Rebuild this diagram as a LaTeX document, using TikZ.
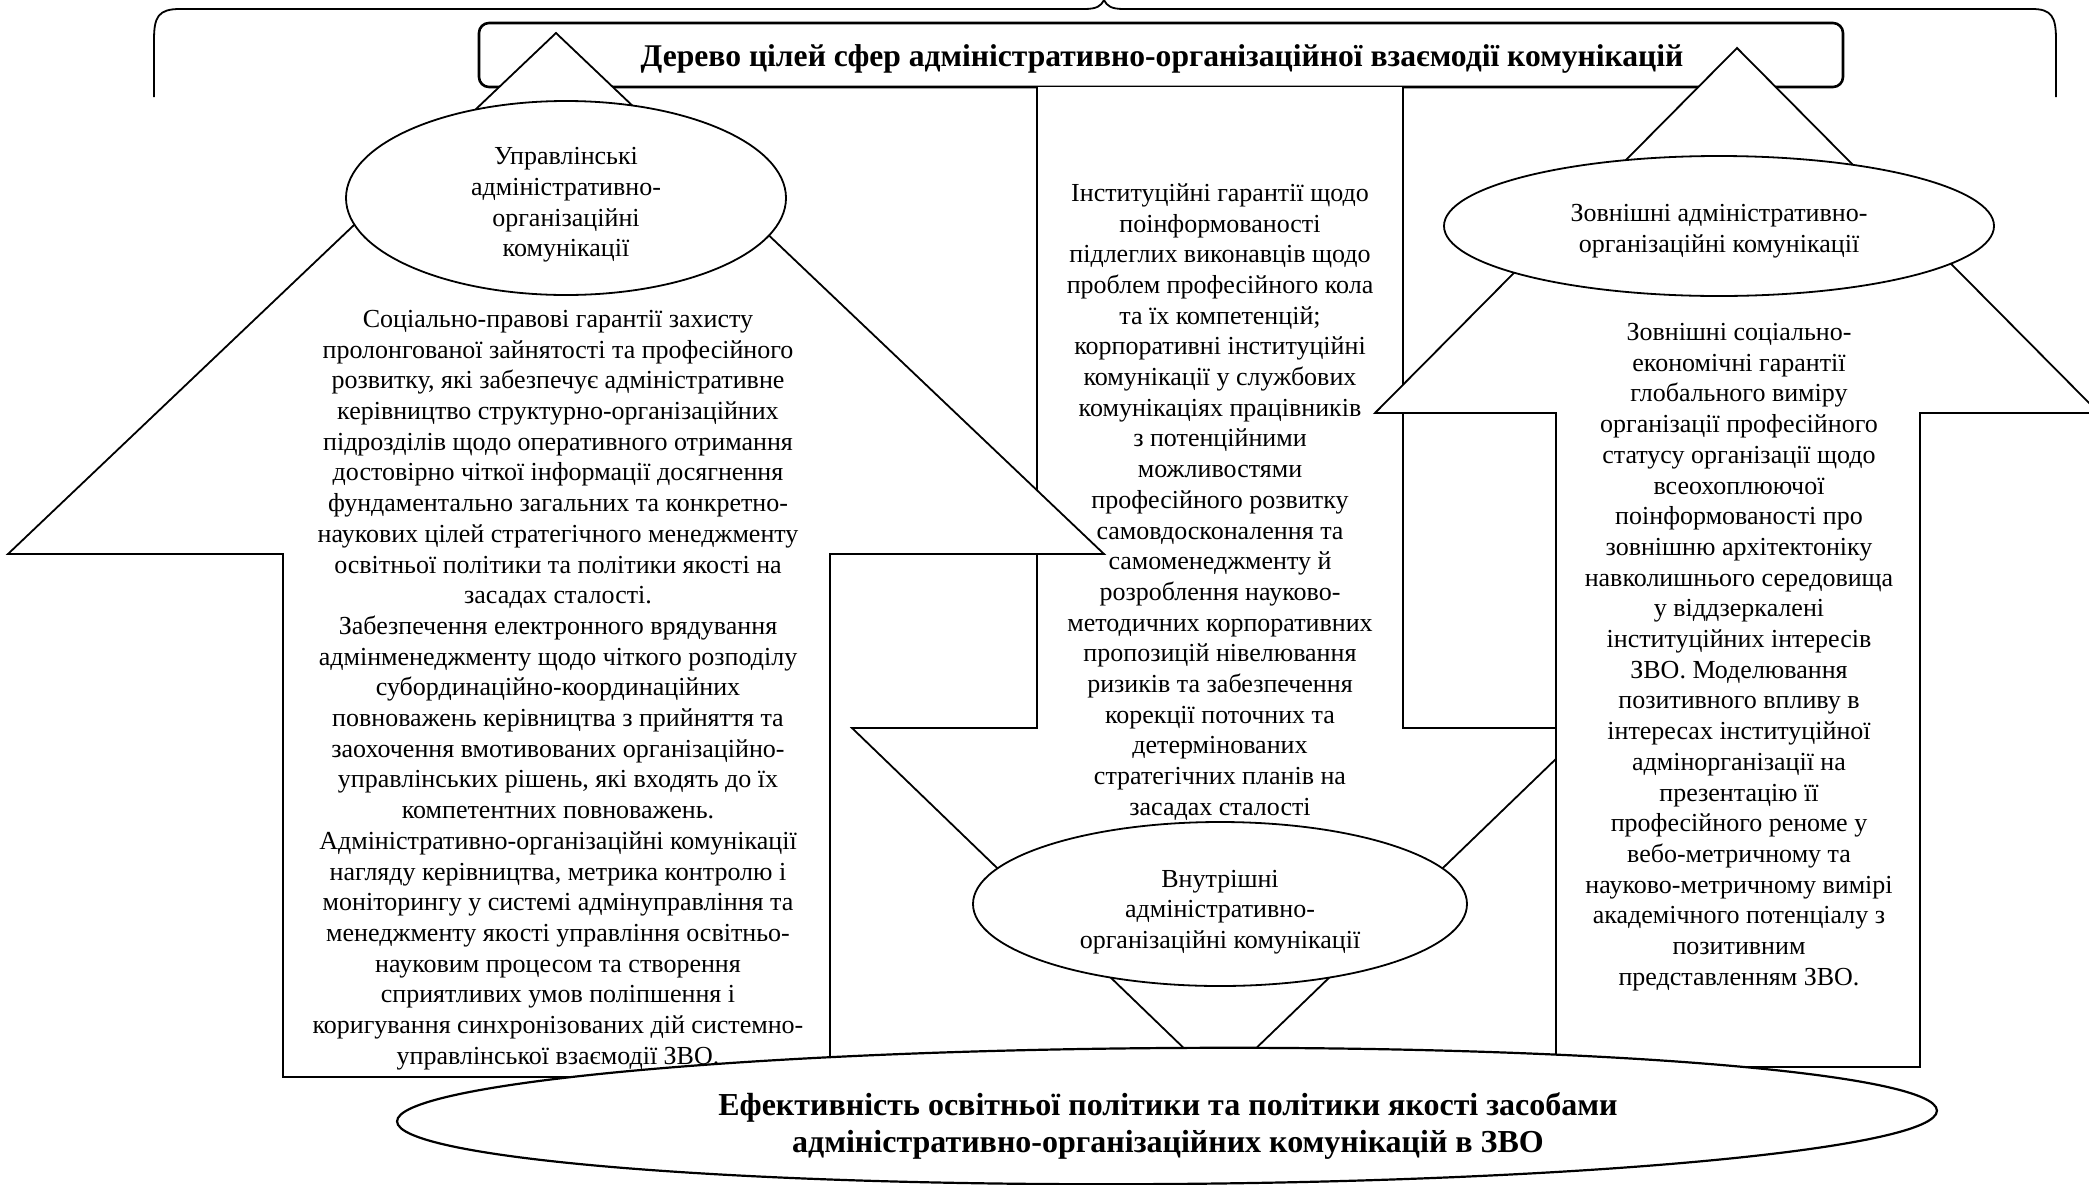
\documentclass[tikz,border=0pt]{standalone}
\usepackage{fontspec}
\setmainfont{Liberation Serif}
\usetikzlibrary{shapes.geometric}
\begin{document}
\begin{tikzpicture}[x=0.5pt,y=-0.5pt,
  outl/.style={draw=black,line width=0.9pt,fill=white,line join=miter},
  body/.style={font=\fontsize{13}{15.35}\selectfont,align=center,inner sep=0pt},
  oval/.style={ellipse,draw=black,line width=0.9pt,fill=white,inner sep=0pt},
  boldtxt/.style={font=\fontsize{16}{18.5}\selectfont\bfseries,align=center,inner sep=0pt},
]
\useasboundingbox (0,0) rectangle (2089,1184);
\clip (0,0) rectangle (2089,1184);

% brace
\draw[line width=0.9pt] (154,97) -- (154,40) .. controls (154,17) and (158,9) .. (180,9)
  -- (1084,9) .. controls (1097,9) and (1101,6) .. (1104,0)
  .. controls (1107,6) and (1111,9) .. (1124,9) -- (2032,9)
  .. controls (2052,9) and (2056,17) .. (2056,40) -- (2056,97);

% title box
\draw[line width=1.3pt,rounded corners=5pt] (479,23) rectangle (1843,87);

% middle (downward) arrow
\draw[outl] (1037,87) -- (1037,728) -- (852,728) -- (1220,1083) -- (1588,728)
  -- (1403,728) -- (1403,87);

% left (upward) arrow
\draw[outl] (283,1077) -- (283,554) -- (8,554) -- (556,33) -- (1104,554)
  -- (830,554) -- (830,1077) -- cycle;

% right (upward) arrow
\draw[outl] (1556,1067) -- (1556,413) -- (1375,413) -- (1737,48) -- (2099,413)
  -- (1920,413) -- (1920,1067) -- cycle;

% title text
\node[boldtxt,font=\fontsize{15.8}{18}\selectfont\bfseries] (title) at (1162,59)
  {Дерево цілей сфер адміністративно-організаційної взаємодії комунікацій};

% block texts
\node[body] (lefttext) at (558,690) {Соціально-правові гарантії захисту\\
пролонгованої зайнятості та професійного\\
розвитку, які забезпечує адміністративне\\
керівництво структурно-організаційних\\
підрозділів щодо оперативного отримання\\
достовірно чіткої інформації досягнення\\
фундаментально загальних та конкретно-\\
наукових цілей стратегічного менеджменту\\
освітньої політики та політики якості на\\
засадах сталості.\\
Забезпечення електронного врядування\\
адмінменеджменту щодо чіткого розподілу\\
субординаційно-координаційних\\
повноважень керівництва з прийняття та\\
заохочення вмотивованих організаційно-\\
управлінських рішень, які входять до їх\\
компетентних повноважень.\\
Адміністративно-організаційні комунікації\\
нагляду керівництва, метрика контролю і\\
моніторингу у системі адмінуправління та\\
менеджменту якості управління освітньо-\\
науковим процесом та створення\\
сприятливих умов поліпшення і\\
коригування синхронізованих дій системно-\\
управлінської взаємодії ЗВО.};

\node[body] (midtext) at (1220,502) {Інституційні гарантії щодо\\
поінформованості\\
підлеглих виконавців щодо\\
проблем професійного кола\\
та їх компетенцій;\\
корпоративні інституційні\\
комунікації у службових\\
комунікаціях працівників\\
з потенційними\\
можливостями\\
професійного розвитку\\
самовдосконалення та\\
самоменеджменту й\\
розроблення науково-\\
методичних корпоративних\\
пропозицій нівелювання\\
ризиків та забезпечення\\
корекції поточних та\\
детермінованих\\
стратегічних планів на\\
засадах сталості};

\node[body] (righttext) at (1739,657) {Зовнішні соціально-\\
економічні гарантії\\
глобального виміру\\
організації професійного\\
статусу організації щодо\\
всеохоплюючої\\
поінформованості про\\
зовнішню архітектоніку\\
навколишнього середовища\\
у віддзеркалені\\
інституційних інтересів\\
ЗВО. Моделювання\\
позитивного впливу в\\
інтересах інституційної\\
адмінорганізації на\\
презентацію її\\
професійного реноме у\\
вебо-метричному та\\
науково-метричному вимірі\\
академічного потенціалу з\\
позитивним\\
представленням ЗВО.};

% ellipses
\node[oval,minimum width=220pt,minimum height=97pt] (mgmt) at (566,198) {};
\node[body] (mgmttext) at (566,205)
  {Управлінські\\адміністративно-\\організаційні\\комунікації};
\node[oval,minimum width=275pt,minimum height=70pt] (ext) at (1719,226) {};
\node[body] (exttext) at (1719,231)
  {Зовнішні адміністративно-\\організаційні комунікації};
\node[oval,minimum width=247pt,minimum height=82pt] (int) at (1220,904) {};
\node[body] (inttext) at (1220,912)
  {Внутрішні\\адміністративно-\\організаційні комунікації};

% bottom ellipse
\node[ellipse,draw=black,line width=1.1pt,fill=white,inner sep=0pt,
  minimum width=770pt,minimum height=68pt,rotate=0.4] (effect) at (1167,1116) {};
\node[boldtxt] (efftext) at (1168,1126)
  {Ефективність освітньої політики та політики якості засобами\\
адміністративно-організаційних комунікацій в ЗВО};
\end{tikzpicture}
\end{document}
